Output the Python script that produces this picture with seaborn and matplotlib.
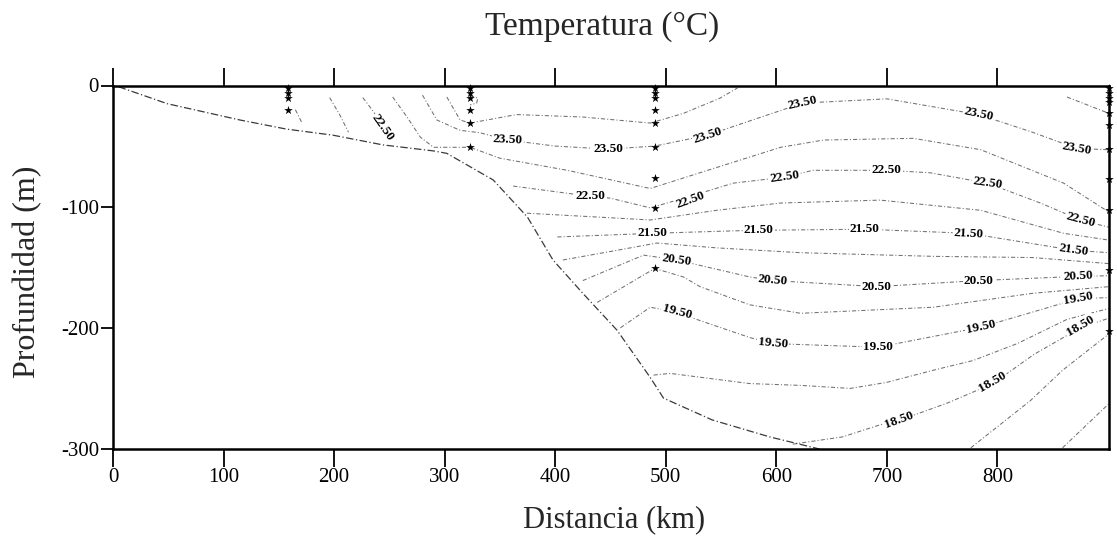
import matplotlib
matplotlib.use("Agg")
import matplotlib.pyplot as plt
import pandas as pd
import seaborn as sns

# ---------------- data (distance km, depth m) ----------------
bathy_km = [5, 49, 115, 157, 199, 244, 290, 302, 344, 375, 398, 425, 456, 486, 498, 542, 594, 639]
bathy_z = [-1, -15, -28.5, -36, -41, -49, -54, -56, -78, -108.7, -144, -171.5, -202, -241, -258, -276, -290, -300]

t215_left_km = [165, 171]
t215_left_z = [-20, -31]
t220_left_km = [196, 205, 213]
t220_left_z = [-10, -24, -38.5]
t225_left_km = [226, 236, 244, 253]
t225_left_z = [-10, -22, -35, -45]

t240_km = [302, 314, 323, 365, 425, 486, 516, 549, 565]
t240_z = [-9.5, -28.5, -31, -24, -26, -31, -23, -10.5, -2]
t240_right_km = [863, 901]
t240_right_z = [-9.5, -23]
t245_loop_km = [323, 330, 329, 323]
t245_loop_z = [-8, -10.5, -14.5, -16]

t235_km = [280, 293, 314, 332, 357, 400, 448, 490, 538, 580, 624, 700, 783, 830, 872, 901]
t235_z = [-8, -28.5, -37, -39, -45, -50, -52.5, -50, -41, -28, -14.5, -11, -24, -38, -52, -53]

t230_km = [253, 266, 278, 290, 323, 350, 411, 486, 531, 604, 643, 724, 785, 860, 901]
t230_z = [-9.5, -26, -42.6, -51, -51, -60, -70, -85, -72, -51, -45, -43.6, -53, -80.6, -104.5]

t225_km = [362, 432, 450, 486, 522, 561, 608, 633, 700, 739, 791, 839, 875, 901]
t225_z = [-83, -91.5, -93, -101, -91.5, -80.6, -75.6, -70, -70, -72, -80.6, -97, -111, -117]

t220_km = [374.5, 441, 486, 546, 604, 694, 785, 860, 901]
t220_z = [-105.4, -108.7, -111, -103, -97, -94.6, -103, -122, -127.6]

t215_km = [402, 488, 560, 584, 680, 774, 869, 901]
t215_z = [-125, -122, -120, -119.5, -118.6, -122, -136, -138]

t210_km = [407, 456, 492, 546, 622, 742, 832, 901]
t210_z = [-144, -136, -130, -134, -138, -141, -142, -147]

t205_km = [425, 480, 510, 576, 597, 691, 783, 873, 901]
t205_z = [-161, -140, -144, -158, -161, -166, -161, -157.5, -157]

t200_km = [438, 490, 516, 531, 576, 622, 742, 832, 901]
t200_z = [-179, -151, -158, -166, -181, -188, -183, -171.5, -166]

t195_km = [459, 486, 510, 531, 576, 597, 692, 785, 873, 901]
t195_z = [-200, -183, -187, -194, -208, -213, -216, -199.5, -176, -175]

t190_km = [489, 504, 576, 622, 667, 700, 742, 778, 818, 863, 901]
t190_z = [-239, -237.6, -246, -247.5, -250, -245, -235, -227, -213, -193, -184]

t185_km = [615, 660, 694, 711, 755, 796, 833, 875, 901]
t185_z = [-296, -290, -280, -276.5, -262, -246, -222, -200, -192]

t180_km = [776, 830, 859, 901]
t180_z = [-299, -260, -235, -205]

t175_km = [859, 901]
t175_z = [-299, -262.5]

# contour labels
label_text = ["22.50",
              "23.50", "23.50", "23.50", "23.50", "23.50", "23.50",
              "22.50", "22.50", "22.50", "22.50", "22.50", "22.50",
              "21.50", "21.50", "21.50", "21.50", "21.50",
              "20.50", "20.50", "20.50", "20.50", "20.50",
              "19.50", "19.50", "19.50", "19.50", "19.50",
              "18.50", "18.50", "18.50"]
label_km = [244,
            357, 448, 538, 624, 783, 872,
            432, 522, 608, 700, 791, 875,
            488, 584, 680, 774, 869,
            510, 597, 691, 783, 873,
            510, 597, 692, 785, 873,
            711, 796, 875]
label_z = [-35,
           -45, -52.5, -41, -14.5, -24, -52,
           -91.5, -94.6, -75.6, -70, -80.6, -111,
           -122, -119.5, -118.6, -122, -136,
           -144, -161, -166, -161, -157.5,
           -187, -213, -216, -199.5, -176,
           -276.5, -245, -198]
label_rot = [-55,
             -3, 0, 18, 12, -12, -10,
             0, 20, 8, 0, -8, -15,
             0, 0, 0, -3, -8,
             -8, -5, 0, 0, 3,
             -15, -5, 0, 12, 10,
             20, 30, 30]

# CTD stations (sample depths)
st1_km, st1_z = 158, [-2, -6, -10, -20]
st2_km, st2_z = 323, [-2, -6, -10, -20, -31, -51]
st3_km, st3_z = 490, [-2, -6, -10, -20, -31, -51, -76.5, -101, -151]
st4_km, st4_z = 901, [-2, -6, -10, -14, -23, -33, -52, -77, -103, -152, -203]

xticks = [0, 100, 200, 300, 400, 500, 600, 700, 800]
yticks = [0, -100, -200, -300]
ytick_labels = ["0", "-100", "-200", "-300"]

# ---------------- build tables ----------------
lines = {
    "t215_left": (t215_left_km, t215_left_z), "t220_left": (t220_left_km, t220_left_z),
    "t225_left": (t225_left_km, t225_left_z), "t240": (t240_km, t240_z),
    "t240_right": (t240_right_km, t240_right_z), "t245_loop": (t245_loop_km, t245_loop_z),
    "t235": (t235_km, t235_z), "t230": (t230_km, t230_z), "t225": (t225_km, t225_z),
    "t220": (t220_km, t220_z), "t215": (t215_km, t215_z), "t210": (t210_km, t210_z),
    "t205": (t205_km, t205_z), "t200": (t200_km, t200_z), "t195": (t195_km, t195_z),
    "t190": (t190_km, t190_z), "t185": (t185_km, t185_z), "t180": (t180_km, t180_z),
    "t175": (t175_km, t175_z),
}
iso_df = pd.concat(
    [pd.DataFrame({"name": k, "km": v[0], "z": v[1]}) for k, v in lines.items()],
    ignore_index=True)
bathy_df = pd.DataFrame({"km": bathy_km, "z": bathy_z})
stars_df = pd.concat(
    [pd.DataFrame({"km": km, "z": z}) for km, z in
     [(st1_km, st1_z), (st2_km, st2_z), (st3_km, st3_z), (st4_km, st4_z)]],
    ignore_index=True)

# ---------------- plot ----------------
sns.set_theme(style="white")
plt.rcParams["font.family"] = ["Liberation Serif", "DejaVu Serif"]

W, H = 1117, 543
fig = plt.figure(figsize=(W / 100, H / 100), dpi=100)
ax = fig.add_axes([113 / W, 1 - 449 / H, (1109 - 113) / W, (449 - 85.5) / H])

sns.lineplot(data=iso_df, x="km", y="z", units="name", estimator=None, sort=False,
             color="#707070", linewidth=0.75, linestyle=(0, (4, 2, 1, 2)), ax=ax,
             legend=False)
sns.lineplot(data=bathy_df, x="km", y="z", estimator=None, sort=False,
             color="#3a3a3a", linewidth=0.9, linestyle=(0, (6, 2, 1, 2)), ax=ax)
sns.scatterplot(data=stars_df, x="km", y="z", marker="*", color="black", s=42,
                linewidth=0, clip_on=False, zorder=5, ax=ax)

for t, x, y, r in zip(label_text, label_km, label_z, label_rot):
    ax.text(x, y, t, rotation=r, rotation_mode="anchor", ha="center", va="center",
            fontsize=9.5, fontweight="bold", color="black", zorder=4,
            bbox=dict(boxstyle="square,pad=0.08", fc="white", ec="none"))

ax.set_xlim(0, 901)
ax.set_ylim(-300, 0)
ax.set_xticks(xticks)
ax.set_xticklabels([str(v) for v in xticks])
ax.set_yticks(yticks)
ax.set_yticklabels(ytick_labels)
ax.set_xlabel("")
ax.set_ylabel("")
ax.tick_params(axis="x", direction="out", length=13, width=1.3, top=True, bottom=True,
               labeltop=False, labelsize=15, pad=1, colors="black")
ax.tick_params(axis="y", direction="out", length=9, width=1.3, left=True,
               labelsize=15, pad=1, colors="black")
for s in ax.spines.values():
    s.set_color("black")
    s.set_linewidth(1.8)
ax.grid(False)

fig.text(602 / W, 1 - 27 / H, "Temperatura (°C)", ha="center", va="center", fontsize=24)
fig.text(614 / W, 1 - 520 / H, "Distancia (km)", ha="center", va="center", fontsize=22)
fig.text(28 / W, 1 - 272 / H, "Profundidad (m)", ha="center", va="center",
         rotation=90, fontsize=23)

fig.savefig("out.png", dpi=100)
